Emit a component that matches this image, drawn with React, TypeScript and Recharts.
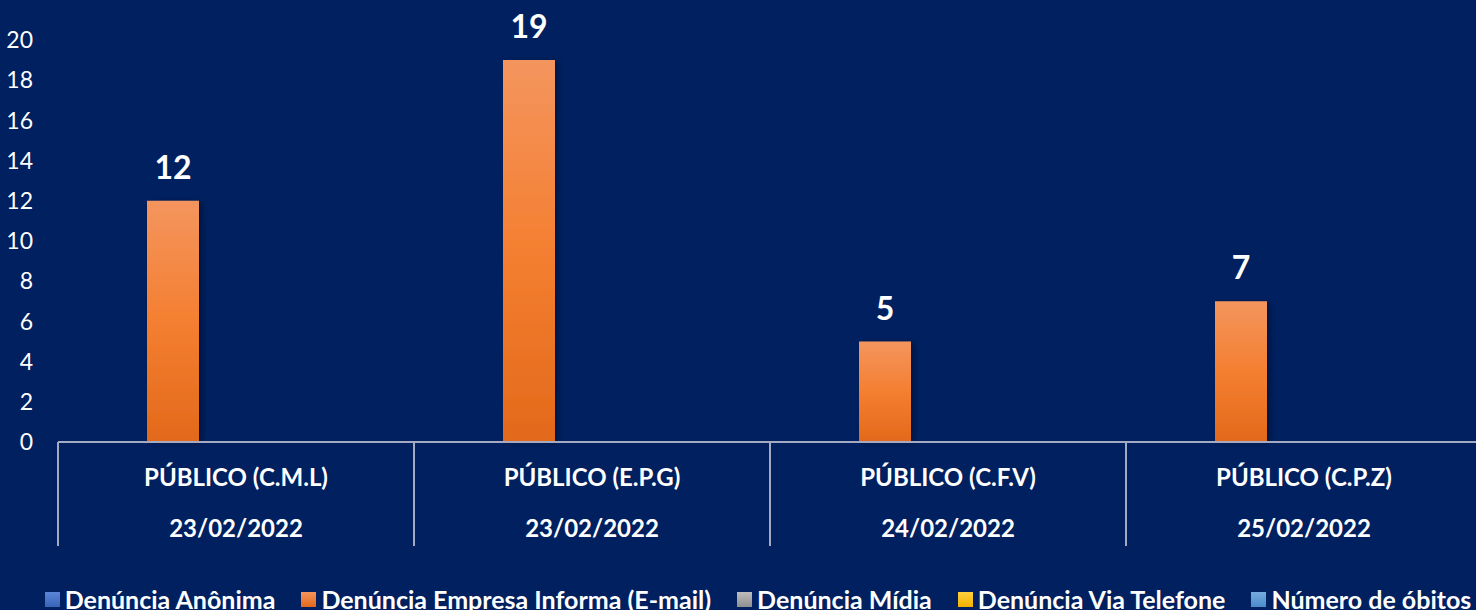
import React from "react";
import { BarChart, Bar, XAxis, YAxis, Legend, LabelList } from "recharts";

const categories = ["PÚBLICO (C.M.L)", "PÚBLICO (E.P.G)", "PÚBLICO (C.F.V)", "PÚBLICO (C.P.Z)"];
const dates = ["23/02/2022", "23/02/2022", "24/02/2022", "25/02/2022"];
const emailValues = [12, 19, 5, 7];
const yTicks = [0, 2, 4, 6, 8, 10, 12, 14, 16, 18, 20];

const seriesNames = [
    "Denúncia Anônima",
    "Denúncia Empresa Informa (E-mail)",
    "Denúncia Mídia",
    "Denúncia Via Telefone",
    "Número de óbitos",
];

// series colors: [top, bottom] of gradient
const SERIES_COLORS: [string, string][] = [
    ["#5b86d6", "#3864b8"],
    ["#f4955e", "#e2691a"],
    ["#bdbdbd", "#8f8f8f"],
    ["#ffd040", "#f0b000"],
    ["#76acdf", "#4a8bcb"],
];

const FONT = "Lato, 'Open Sans', sans-serif";
const BG = "#002060";
const LINE = "#a3aac2";

const Y_AXIS_W = 58;
const PLOT_W = 1424;
const bandHalf = PLOT_W / categories.length / 2;

const data = categories.map((name, i) => ({
    name,
    date: dates[i],
    email: emailValues[i],
}));

const seriesKeys = ["anon", "email", "midia", "telefone", "obitos"];

const CategoryTick = ({ x, y, payload, index }: any) => {
    const i = typeof index === "number" ? index : categories.indexOf(payload.value);
    return (
        <g>
            <line x1={x - bandHalf} y1={y} x2={x - bandHalf} y2={y + 104} stroke={LINE} strokeWidth={2} />
            <text x={x} y={y + 44} textAnchor="middle" fill="#fff" fontSize={24} fontWeight={700} fontFamily={FONT}>
                {payload.value}
            </text>
            <text x={x} y={y + 95} textAnchor="middle" fill="#fff" fontSize={24} fontWeight={700} fontFamily={FONT}>
                {dates[i]}
            </text>
        </g>
    );
};

const LegendContent = ({ payload }: any) => (
    <div
        style={{
            display: "flex",
            justifyContent: "center",
            alignItems: "center",
            gap: 26,
            fontFamily: FONT,
            fontWeight: 700,
            fontSize: 25,
            color: "#fff",
            whiteSpace: "nowrap",
        }}
    >
        {(payload || []).map((entry: any, i: number) => (
            <div key={`leg-${i}`} style={{ display: "flex", alignItems: "center", gap: 5 }}>
                <div
                    style={{
                        width: 15,
                        height: 15,
                        background: `linear-gradient(${SERIES_COLORS[i][0]}, ${SERIES_COLORS[i][1]})`,
                    }}
                />
                <span>{entry.value}</span>
            </div>
        ))}
    </div>
);

export default function App() {
    return (
        <div
            style={{
                position: "absolute",
                left: 0,
                top: 0,
                width: 1476,
                height: 610,
                overflow: "hidden",
                background: BG,
            }}
        >
            <BarChart
                width={1500}
                height={640}
                data={data}
                margin={{ top: 40, right: 1500 - Y_AXIS_W - PLOT_W, left: 0, bottom: 78 }}
                barSize={52}
                barGap={11}
            >
                <defs>
                    {SERIES_COLORS.map((c, i) => (
                        <linearGradient key={`g-${i}`} id={`grad-${i}`} x1="0" y1="0" x2="0" y2="1">
                            <stop offset="0%" stopColor={c[0]} />
                            <stop offset="50%" stopColor={i === 1 ? "#f47f31" : c[0]} />
                            <stop offset="100%" stopColor={c[1]} />
                        </linearGradient>
                    ))}
                    <filter id="barShadow" x="-20%" y="-5%" width="140%" height="110%">
                        <feDropShadow dx="3" dy="1" stdDeviation="3" floodColor="#000" floodOpacity="0.35" />
                    </filter>
                </defs>
                <XAxis
                    dataKey="name"
                    height={120}
                    interval={0}
                    tickLine={false}
                    tickSize={0}
                    tickMargin={0}
                    axisLine={{ stroke: LINE, strokeWidth: 2 }}
                    tick={<CategoryTick />}
                />
                <YAxis
                    width={Y_AXIS_W}
                    domain={[0, 20]}
                    ticks={yTicks}
                    interval={0}
                    axisLine={false}
                    tickLine={false}
                    tickSize={0}
                    tickMargin={25}
                    tick={{ fill: "#fff", fontSize: 23, fontFamily: FONT }}
                />
                <Legend
                    layout="horizontal"
                    verticalAlign="middle"
                    align="center"
                    wrapperStyle={{ position: "absolute", top: 584, left: 0, width: 1516 }}
                    content={<LegendContent />}
                />
                {seriesKeys.map((key, i) => (
                    <Bar
                        key={key}
                        dataKey={key}
                        name={seriesNames[i]}
                        fill={`url(#grad-${i})`}
                        isAnimationActive={false}
                        filter="url(#barShadow)"
                    >
                        {key === "email" && (
                            <LabelList
                                dataKey="email"
                                position="top"
                                offset={22}
                                fill="#fff"
                                fontSize={32}
                                fontWeight={700}
                                fontFamily={FONT}
                            />
                        )}
                    </Bar>
                ))}
            </BarChart>
        </div>
    );
}
